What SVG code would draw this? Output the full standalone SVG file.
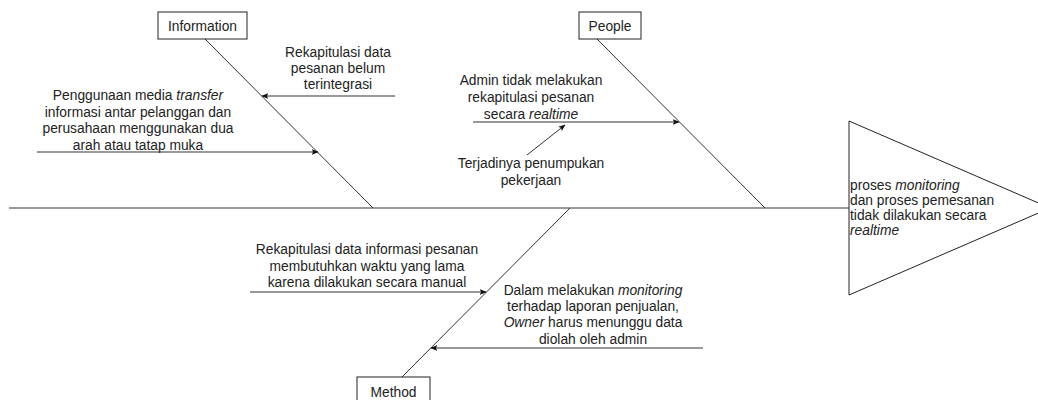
<svg xmlns="http://www.w3.org/2000/svg" width="1038" height="400" viewBox="0 0 1038 400">
<style>
text{font-family:"Liberation Sans",Arial,sans-serif;font-size:13.8px;fill:#222}
.c{text-anchor:middle}
.box{fill:#fff;stroke:#222;stroke-width:1}
.ln{stroke:#333;stroke-width:1;fill:none}
.ar{stroke:#333;stroke-width:1;fill:none;marker-end:url(#ah)}
</style>
<defs>
<marker id="ah" viewBox="0 0 10 10" refX="9" refY="5" markerWidth="7" markerHeight="7" orient="auto" markerUnits="userSpaceOnUse">
<path d="M0,1 L10,5 L0,9 L2,5 Z" fill="#111"/>
</marker>
</defs>
<rect width="1038" height="400" fill="#fff"/>
<g id="connectors">
<line class="ln" x1="9" y1="208" x2="849" y2="208"/>
<line class="ln" x1="205" y1="39" x2="373" y2="208"/>
<line class="ln" x1="597" y1="39" x2="765" y2="208"/>
<line class="ln" x1="402" y1="377" x2="570" y2="208"/>
<line class="ar" x1="395" y1="96" x2="262" y2="96"/>
<line class="ar" x1="37" y1="152" x2="318" y2="152"/>
<line class="ar" x1="473" y1="122" x2="679" y2="122"/>
<line class="ar" x1="527" y1="155" x2="565" y2="125"/>
<line class="ar" x1="250" y1="292" x2="486" y2="292"/>
<line class="ar" x1="703" y1="348" x2="431" y2="348"/>
</g>
<g id="information">
<rect class="box" x="158" y="12" width="89" height="27"/>
<text class="c" x="202.5" y="30.5">Information</text>
</g>
<g id="people">
<rect class="box" x="579" y="12" width="62" height="27"/>
<text class="c" x="610" y="30.5">People</text>
</g>
<g id="method">
<rect class="box" x="357" y="377" width="73" height="27"/>
<text class="c" x="393.5" y="396.5">Method</text>
</g>
<g id="effect">
<path class="box" d="M849,121 L1050,208 L849,295 Z"/>
<text x="850" y="190"><tspan>proses </tspan><tspan font-style="italic">monitoring</tspan></text>
<text x="850" y="205">dan proses pemesanan</text>
<text x="850" y="220">tidak dilakukan secara</text>
<text x="850" y="235" font-style="italic">realtime</text>
</g>
<g id="cause-info-1">
<text class="c" x="338" y="57">Rekapitulasi data</text>
<text class="c" x="338" y="73">pesanan belum</text>
<text class="c" x="338" y="89">terintegrasi</text>
</g>
<g id="cause-info-2">
<text class="c" x="138" y="100"><tspan>Penggunaan media </tspan><tspan font-style="italic">transfer</tspan></text>
<text class="c" x="138" y="117">informasi antar pelanggan dan</text>
<text class="c" x="138" y="133">perusahaan menggunakan dua</text>
<text class="c" x="138" y="150">arah atau tatap muka</text>
</g>
<g id="cause-people-1">
<text class="c" x="531" y="85">Admin tidak melakukan</text>
<text class="c" x="531" y="102">rekapitulasi pesanan</text>
<text class="c" x="531" y="119"><tspan>secara </tspan><tspan font-style="italic">realtime</tspan></text>
</g>
<g id="cause-people-2">
<text class="c" x="531" y="168">Terjadinya penumpukan</text>
<text class="c" x="531" y="185">pekerjaan</text>
</g>
<g id="cause-method-1">
<text class="c" x="367" y="254">Rekapitulasi data informasi pesanan</text>
<text class="c" x="367" y="271">membutuhkan waktu yang lama</text>
<text class="c" x="367" y="287">karena dilakukan secara manual</text>
</g>
<g id="cause-method-2">
<text class="c" x="593" y="295"><tspan>Dalam melakukan </tspan><tspan font-style="italic">monitoring</tspan></text>
<text class="c" x="593" y="311">terhadap laporan penjualan,</text>
<text class="c" x="593" y="327"><tspan font-style="italic">Owner</tspan><tspan> harus menunggu data</tspan></text>
<text class="c" x="593" y="344">diolah oleh admin</text>
</g>
</svg>
